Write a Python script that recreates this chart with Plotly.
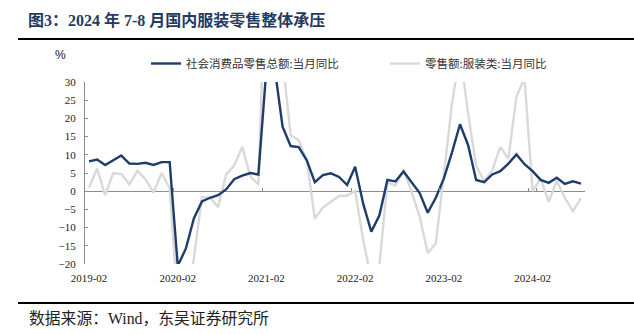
import plotly.graph_objects as go

# ---- data ----
years_months = []
for yr in range(2019, 2025):
    last = 8 if yr == 2024 else 12
    for m in range(2, last + 1):
        years_months.append(f"{yr}-{m:02d}")
months = years_months

tick_labels = ["2019-02", "2020-02", "2021-02", "2022-02", "2023-02", "2024-02"]

retail_total = [
    8.2, 8.7, 7.2, 8.6, 9.8, 7.6, 7.5, 7.8, 7.2, 8.0, 8.0,
    -20.5, -15.8, -7.5, -2.8, -1.8, -1.1, 0.5, 3.3, 4.3, 5.0, 4.6,
    33.8, 34.2, 17.7, 12.4, 12.1, 8.5, 2.5, 4.4, 4.9, 3.9, 1.7,
    6.7, -3.5, -11.1, -6.7, 3.1, 2.7, 5.4, 2.5, -0.5, -5.9, -1.8,
    3.5, 10.6, 18.4, 12.7, 3.1, 2.5, 4.6, 5.5, 7.6, 10.1, 7.4,
    5.5, 3.1, 2.3, 3.7, 2.0, 2.7, 2.1,
]

clothing = [
    1.0, 6.2, -1.1, 5.0, 4.7, 1.9, 5.6, 3.3, -0.4, 5.0, 0.8,
    -31.0, -35.0, -19.0, -1.6, -1.8, -4.3, 4.5, 7.1, 12.2, 4.0, 1.9,
    68.0, 50.0, 36.0, 15.4, 14.0, 8.5, -7.5, -4.5, -2.8, -1.3, -1.2,
    0.1, -13.5, -24.0, -20.5, 2.5, 1.5, 5.9, -0.2, -7.0, -17.0, -14.3,
    4.5, 24.0, 38.0, 21.5, 7.0, 2.7, 5.8, 12.1, 8.9, 26.0, 31.0,
    0.0, 3.5, -2.9, 2.9, -1.8, -5.5, -1.9,
]

name_total = "社会消费品零售总额:当月同比"
name_cloth = "零售额:服装类:当月同比"

title_text = "图3：2024 年 7-8 月国内服装零售整体承压"
source_text = "数据来源：Wind，东吴证券研究所"

W, H = 634, 334
L, R = 85, 585
T, B = 82, 264

NAVY = "#1f3d6b"
GRAY_LINE = "#d9d9d9"
AXIS = "#8c8c8c"
SERIF = "Liberation Serif, Times New Roman, serif"
CJK = "Noto Sans CJK SC, sans-serif"

fig = go.Figure()
fig.add_trace(go.Scatter(x=months, y=clothing, name=name_cloth, mode="lines",
                         line=dict(color=GRAY_LINE, width=2.4)))
fig.add_trace(go.Scatter(x=months, y=retail_total, name=name_total, mode="lines",
                         line=dict(color=NAVY, width=2.4)))
# helper trace for the zero-line tick axis
fig.add_trace(go.Scatter(x=months, y=[None] * len(months), xaxis="x2", mode="lines",
                         showlegend=False, hoverinfo="skip"))


def py(v):
    return (B - v) / (B - T)


def px(v):
    return (v - L) / (R - L)


fig.update_layout(
    width=W, height=H,
    margin=dict(l=L, r=W - R, t=T, b=H - B, autoexpand=False),
    paper_bgcolor="white", plot_bgcolor="white",
    showlegend=True,
    legend=dict(orientation="h", xref="container", yref="container",
                x=146 / W, y=1 - 49 / H, xanchor="left", yanchor="top",
                font=dict(family=CJK, size=11.5, color="#333333"),
                entrywidth=194, traceorder="reversed",
                bgcolor="rgba(0,0,0,0)"),
    xaxis=dict(type="category", categoryorder="array", categoryarray=months,
               range=[-0.5, len(months) - 0.5], tickvals=tick_labels, ticktext=tick_labels,
               ticks="", showline=False, showgrid=False, zeroline=False,
               tickfont=dict(family=SERIF, size=11, color="#222222"), tickangle=0,
               ticklabelstandoff=6),
    xaxis2=dict(type="category", categoryorder="array", categoryarray=months,
                range=[-0.5, len(months) - 0.5], overlaying="x", anchor="free",
                position=0.4, side="bottom", tickvals=tick_labels, tickson="boundaries",
                ticks="inside", ticklen=3, tickcolor=AXIS, showticklabels=False,
                showline=False, showgrid=False, zeroline=False),
    yaxis=dict(range=[-20, 30], dtick=5, tick0=0, ticks="inside", ticklen=3,
               tickcolor=AXIS, showline=True, linecolor=AXIS, linewidth=1,
               showgrid=False, zeroline=True, zerolinecolor=AXIS, zerolinewidth=1,
               tickfont=dict(family=SERIF, size=11, color="#222222"),
               ticklabelstandoff=6),
    title=dict(text=title_text, xref="container", yref="container",
               x=28 / W, y=1 - 20 / H, xanchor="left", yanchor="middle",
               font=dict(family="Liberation Serif, Noto Sans CJK SC", size=16,
                         color="#1f3b63", weight="bold")),
)

fig.add_annotation(text="%", xref="paper", yref="paper", x=px(60), y=py(55),
                   xanchor="center", yanchor="middle", showarrow=False,
                   font=dict(family="Liberation Sans, Arial", size=12, color="#222222"))
fig.add_annotation(text=source_text, xref="paper", yref="paper", x=px(27), y=py(318),
                   xanchor="left", yanchor="middle", showarrow=False,
                   font=dict(family="Liberation Serif, Noto Sans CJK SC", size=15.8, color="#222222"))

for yline in (39, 303):
    fig.add_shape(type="line", xref="paper", yref="paper", x0=px(18), x1=px(634),
                  y0=py(yline), y1=py(yline), line=dict(color="black", width=2))

fig.write_html("out.html")
